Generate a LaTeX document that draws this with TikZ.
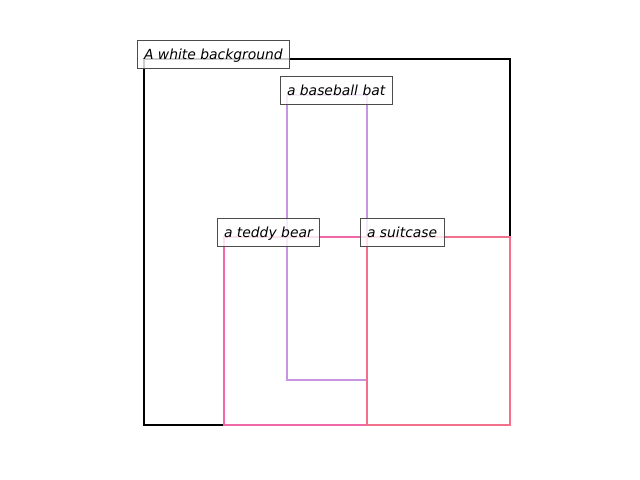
\documentclass[tikz,border=0pt]{standalone}
\usepackage{fontspec}
\setmainfont{DejaVu Sans}
\usepackage{tikz}

\definecolor{batcol}{RGB}{200,150,224}
\definecolor{bearcol}{RGB}{240,104,168}
\definecolor{casecol}{RGB}{242,112,140}

\begin{document}
\begin{tikzpicture}[x=0.72pt, y=-0.72pt,
  boxline/.style={line width=2.1pt},
  lbl/.style={draw=black!70, fill=white, fill opacity=0.8, text opacity=1,
    line width=0.8pt, inner sep=5pt, text height=8.6pt, text depth=1.8pt,
    font=\itshape, anchor=text}]
\useasboundingbox (0,0) rectangle (640,480);
% box corners
\coordinate (bg nw) at (144,59);
\coordinate (bg se) at (510,425);
\coordinate (bat nw) at (287,95);
\coordinate (bat se) at (367,380);
\coordinate (bear nw) at (224,237);
\coordinate (bear se) at (367,425);
\coordinate (case nw) at (367,237);
\coordinate (case se) at (510,425);
% boxes
\draw[boxline, black] (bg nw) rectangle (bg se);
\draw[boxline, batcol] (bat nw) rectangle (bat se);
\draw[boxline, bearcol] (bear nw) rectangle (bear se);
\draw[boxline, casecol] (case nw) rectangle (case se);
% labels
\node[lbl] (bg label) at (bg nw) {A white background};
\node[lbl] (bat label) at (bat nw) {a baseball bat};
\node[lbl] (bear label) at (bear nw) {a teddy bear};
\node[lbl] (case label) at (case nw) {a suitcase};
\end{tikzpicture}
\end{document}
